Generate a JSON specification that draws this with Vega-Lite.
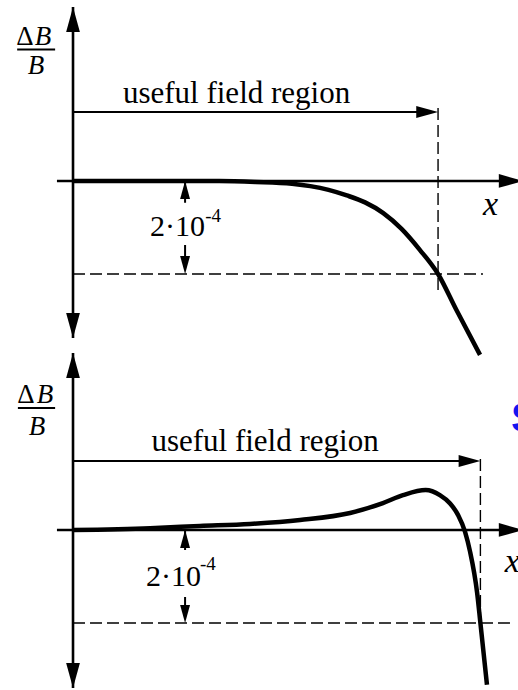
{
  "$schema": "https://vega.github.io/schema/vega-lite/v6.json",
  "padding": 0,
  "bounds": "flush",
  "spacing": 8,
  "background": "white",
  "config": {"view": {"stroke": null}},
  "datasets": {
    "figure": [
      {"panel": "top", "part": "curve", "x": 0, "y": 0},
      {"panel": "top", "part": "curve", "x": 20, "y": 0},
      {"panel": "top", "part": "curve", "x": 40, "y": 0},
      {"panel": "top", "part": "curve", "x": 50, "y": -0.02},
      {"panel": "top", "part": "curve", "x": 60, "y": -0.06},
      {"panel": "top", "part": "curve", "x": 65, "y": -0.11},
      {"panel": "top", "part": "curve", "x": 70, "y": -0.19},
      {"panel": "top", "part": "curve", "x": 75, "y": -0.31},
      {"panel": "top", "part": "curve", "x": 80, "y": -0.46},
      {"panel": "top", "part": "curve", "x": 85, "y": -0.69},
      {"panel": "top", "part": "curve", "x": 90, "y": -1.03},
      {"panel": "top", "part": "curve", "x": 95, "y": -1.48},
      {"panel": "top", "part": "curve", "x": 100, "y": -2.0},
      {"panel": "top", "part": "curve", "x": 105, "y": -2.77},
      {"panel": "top", "part": "curve", "x": 111.5, "y": -3.74},

      {"panel": "top", "part": "seg", "kind": "axis", "x": 0, "y": 3.742, "x2": 0, "y2": -3.376},
      {"panel": "top", "part": "seg", "kind": "axis", "x": -4.4, "y": 0, "x2": 120, "y2": 0},
      {"panel": "top", "part": "seg", "kind": "guide", "x": 0, "y": 1.484, "x2": 97, "y2": 1.484},
      {"panel": "top", "part": "seg", "kind": "guide", "x": -15.3, "y": 2.828, "x2": -4.9, "y2": 2.828},
      {"panel": "top", "part": "seg", "kind": "guide", "x": 30.7, "y": 0, "x2": 30.7, "y2": -0.47},
      {"panel": "top", "part": "seg", "kind": "guide", "x": 30.7, "y": -1.376, "x2": 30.7, "y2": -1.8},
      {"panel": "top", "part": "seg", "kind": "dash", "x": 100, "y": 1.57, "x2": 100, "y2": -2.41},
      {"panel": "top", "part": "seg", "kind": "dash", "x": 0, "y": -2, "x2": 112.3, "y2": -2},

      {"panel": "top", "part": "head", "kind": "axis", "dir": "up", "x": 0, "y": 3.742},
      {"panel": "top", "part": "head", "kind": "axis", "dir": "down", "x": 0, "y": -3.376},
      {"panel": "top", "part": "head", "kind": "axis", "dir": "right", "x": 123.5, "y": 0},
      {"panel": "top", "part": "head", "kind": "guide", "dir": "right", "x": 100, "y": 1.484},
      {"panel": "top", "part": "head", "kind": "small", "dir": "up", "x": 30.7, "y": 0},
      {"panel": "top", "part": "head", "kind": "small", "dir": "down", "x": 30.7, "y": -2},

      {"panel": "top", "part": "text", "role": "caption", "label": "useful field region", "x": 44.8, "y": 1.677},
      {"panel": "top", "part": "text", "role": "delta", "label": "Δ", "x": -13.15, "y": 2.925},
      {"panel": "top", "part": "text", "role": "italicB", "label": "B", "x": -8.22, "y": 2.925},
      {"panel": "top", "part": "text", "role": "italicB", "label": "B", "x": -10.14, "y": 2.301},
      {"panel": "top", "part": "text", "role": "tol", "label": "2·10", "x": 28.6, "y": -1.183},
      {"panel": "top", "part": "text", "role": "exp", "label": "-4", "x": 36.2, "y": -0.882},
      {"panel": "top", "part": "text", "role": "axisname", "label": "x", "x": 112.3, "y": -0.731},

      {"panel": "bottom", "part": "curve", "x": 0, "y": 0},
      {"panel": "bottom", "part": "curve", "x": 21.1, "y": 0.04},
      {"panel": "bottom", "part": "curve", "x": 34.8, "y": 0.086},
      {"panel": "bottom", "part": "curve", "x": 48.5, "y": 0.13},
      {"panel": "bottom", "part": "curve", "x": 62.2, "y": 0.215},
      {"panel": "bottom", "part": "curve", "x": 75.9, "y": 0.366},
      {"panel": "bottom", "part": "curve", "x": 84.9, "y": 0.58},
      {"panel": "bottom", "part": "curve", "x": 90.4, "y": 0.75},
      {"panel": "bottom", "part": "curve", "x": 96.6, "y": 0.86},
      {"panel": "bottom", "part": "curve", "x": 100.5, "y": 0.75},
      {"panel": "bottom", "part": "curve", "x": 103.3, "y": 0.57},
      {"panel": "bottom", "part": "curve", "x": 105.5, "y": 0.32},
      {"panel": "bottom", "part": "curve", "x": 107.4, "y": -0.04},
      {"panel": "bottom", "part": "curve", "x": 108.75, "y": -0.46},
      {"panel": "bottom", "part": "curve", "x": 110.7, "y": -1.35},
      {"panel": "bottom", "part": "curve", "x": 111.6, "y": -2.0},
      {"panel": "bottom", "part": "curve", "x": 113.4, "y": -3.33},

      {"panel": "bottom", "part": "seg", "kind": "axis", "x": 0, "y": 3.806, "x2": 0, "y2": -3.398},
      {"panel": "bottom", "part": "seg", "kind": "axis", "x": -4.4, "y": 0, "x2": 120, "y2": 0},
      {"panel": "bottom", "part": "seg", "kind": "guide", "x": 0, "y": 1.484, "x2": 108.6, "y2": 1.484},
      {"panel": "bottom", "part": "seg", "kind": "guide", "x": -15.1, "y": 2.624, "x2": -4.9, "y2": 2.624},
      {"panel": "bottom", "part": "seg", "kind": "guide", "x": 30.7, "y": 0, "x2": 30.7, "y2": -0.43},
      {"panel": "bottom", "part": "seg", "kind": "guide", "x": 30.7, "y": -1.44, "x2": 30.7, "y2": -1.8},
      {"panel": "bottom", "part": "seg", "kind": "dash", "x": 111.6, "y": 1.527, "x2": 111.6, "y2": -2.108},
      {"panel": "bottom", "part": "seg", "kind": "dash", "x": 0, "y": -2, "x2": 119.7, "y2": -2},

      {"panel": "bottom", "part": "head", "kind": "axis", "dir": "up", "x": 0, "y": 3.806},
      {"panel": "bottom", "part": "head", "kind": "axis", "dir": "down", "x": 0, "y": -3.398},
      {"panel": "bottom", "part": "head", "kind": "axis", "dir": "right", "x": 123.5, "y": 0},
      {"panel": "bottom", "part": "head", "kind": "guide", "dir": "right", "x": 111.6, "y": 1.484},
      {"panel": "bottom", "part": "head", "kind": "small", "dir": "up", "x": 30.7, "y": 0},
      {"panel": "bottom", "part": "head", "kind": "small", "dir": "down", "x": 30.7, "y": -2},

      {"panel": "bottom", "part": "text", "role": "caption", "label": "useful field region", "x": 52.6, "y": 1.699},
      {"panel": "bottom", "part": "text", "role": "delta", "label": "Δ", "x": -12.88, "y": 2.731},
      {"panel": "bottom", "part": "text", "role": "italicB", "label": "B", "x": -7.67, "y": 2.731},
      {"panel": "bottom", "part": "text", "role": "italicB", "label": "B", "x": -9.86, "y": 2.043},
      {"panel": "bottom", "part": "text", "role": "tol", "label": "2·10", "x": 27.5, "y": -1.204},
      {"panel": "bottom", "part": "text", "role": "exp", "label": "-4", "x": 34.8, "y": -0.86},
      {"panel": "bottom", "part": "text", "role": "axisname", "label": "x", "x": 118.3, "y": -0.903},
      {"panel": "bottom", "part": "text", "role": "stamp", "label": "S", "x": 120.0, "y": 2.108}
    ]
  },
  "data": {"name": "figure"},
  "facet": {
    "row": {"field": "panel", "type": "nominal", "sort": ["top", "bottom"], "header": null}
  },
  "spec": {
    "width": 518,
    "height": 341,
    "encoding": {
      "x": {"field": "x", "type": "quantitative", "scale": {"domain": [-20, 121.9], "nice": false, "zero": false}, "axis": null},
      "y": {"field": "y", "type": "quantitative", "scale": {"domain": [-3.4409, 3.8925], "nice": false, "zero": false}, "axis": null}
    },
    "layer": [
      {
        "transform": [{"filter": "datum.part == 'seg'"}],
        "mark": {"type": "rule", "color": "black", "strokeCap": "butt"},
        "encoding": {
          "x2": {"field": "x2"},
          "y2": {"field": "y2"},
          "strokeWidth": {"field": "kind", "type": "ordinal", "scale": {"domain": ["axis", "guide", "dash"], "range": [2.6, 1.4, 1.5]}, "legend": null},
          "strokeDash": {"field": "kind", "type": "nominal", "scale": {"domain": ["axis", "guide", "dash"], "range": [[1, 0], [1, 0], [12, 5]]}, "legend": null}
        }
      },
      {
        "transform": [{"filter": "datum.part == 'curve'"}],
        "mark": {"type": "line", "color": "black", "strokeWidth": 4.5, "interpolate": "monotone"},
        "encoding": {}
      },
      {
        "transform": [{"filter": "datum.part == 'head'"}],
        "mark": {"type": "point", "filled": true, "opacity": 1, "color": "black", "strokeWidth": 0},
        "encoding": {
          "shape": {"field": "dir", "type": "nominal", "scale": {"domain": ["up", "down", "right"], "range": ["M0,0L0.55,2L-0.55,2Z", "M0,0L0.55,-2L-0.55,-2Z", "M0,0L-2,0.55L-2,-0.55Z"]}, "legend": null},
          "size": {"field": "kind", "type": "ordinal", "scale": {"domain": ["axis", "guide", "small"], "range": [625, 324, 289]}, "legend": null}
        }
      },
      {
        "transform": [{"filter": "datum.role == 'caption'"}],
        "mark": {"type": "text", "font": "Liberation Serif", "fontSize": 31, "align": "center", "baseline": "alphabetic", "color": "black"},
        "encoding": {"text": {"field": "label"}}
      },
      {
        "transform": [{"filter": "datum.role == 'delta'"}],
        "mark": {"type": "text", "font": "Liberation Serif", "fontSize": 27, "align": "center", "baseline": "alphabetic", "color": "black"},
        "encoding": {"text": {"field": "label"}}
      },
      {
        "transform": [{"filter": "datum.role == 'italicB'"}],
        "mark": {"type": "text", "font": "Liberation Serif", "fontStyle": "italic", "fontSize": 27, "align": "center", "baseline": "alphabetic", "color": "black"},
        "encoding": {"text": {"field": "label"}}
      },
      {
        "transform": [{"filter": "datum.role == 'tol'"}],
        "mark": {"type": "text", "font": "Liberation Serif", "fontSize": 30, "align": "center", "baseline": "alphabetic", "color": "black"},
        "encoding": {"text": {"field": "label"}}
      },
      {
        "transform": [{"filter": "datum.role == 'exp'"}],
        "mark": {"type": "text", "font": "Liberation Serif", "fontSize": 19, "align": "left", "baseline": "alphabetic", "color": "black"},
        "encoding": {"text": {"field": "label"}}
      },
      {
        "transform": [{"filter": "datum.role == 'axisname'"}],
        "mark": {"type": "text", "font": "Liberation Serif", "fontStyle": "italic", "fontSize": 34, "align": "left", "baseline": "alphabetic", "color": "black"},
        "encoding": {"text": {"field": "label"}}
      },
      {
        "transform": [{"filter": "datum.role == 'stamp'"}],
        "mark": {"type": "text", "font": "Liberation Sans", "fontWeight": "bold", "fontSize": 42, "align": "left", "baseline": "alphabetic", "color": "#1414f0"},
        "encoding": {"text": {"field": "label"}}
      }
    ]
  }
}
